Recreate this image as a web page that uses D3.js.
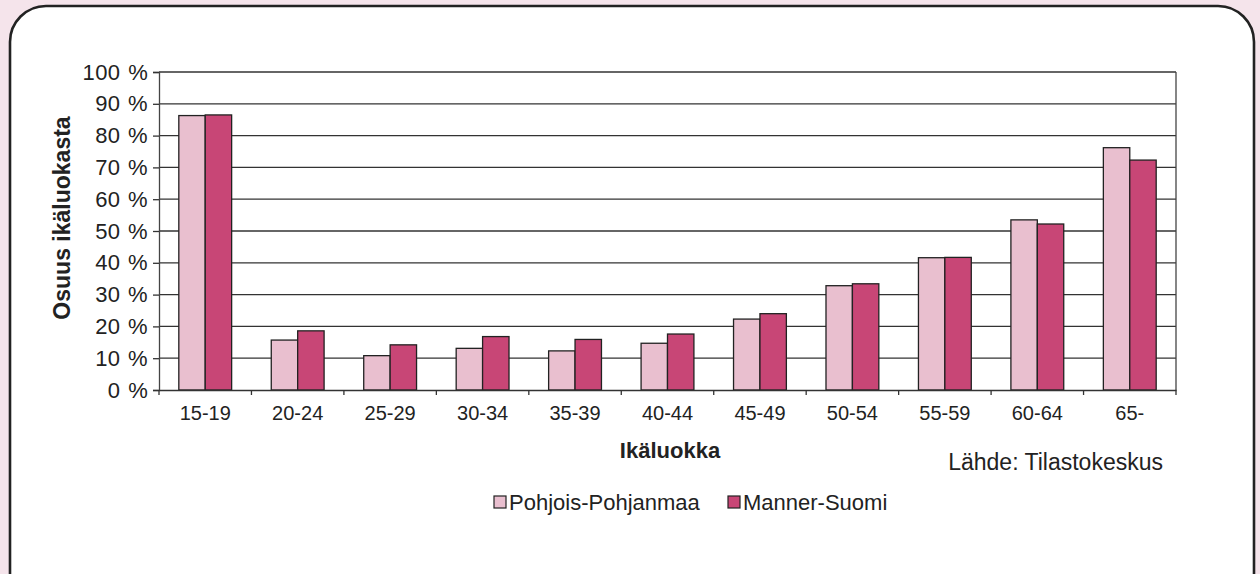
<!DOCTYPE html>
<html>
<head>
<meta charset="utf-8">
<script src="https://cdn.jsdelivr.net/npm/d3@7"></script>
<style>
  body { margin: 0; background: #f5e4eb; }
  svg { display: block; font-family: 'Liberation Sans', Arial, sans-serif; }
</style>
</head>
<body>
<div id="chart"></div>
<script>
// data
var ageGroups = ['15-19', '20-24', '25-29', '30-34', '35-39', '40-44', '45-49', '50-54', '55-59', '60-64', '65-']
var pohjoisPohjanmaa = [86.3, 15.7, 10.8, 13.1, 12.3, 14.7, 22.3, 32.8, 41.6, 53.5, 76.2]
var mannerSuomi = [86.5, 18.6, 14.2, 16.8, 15.9, 17.6, 24.0, 33.4, 41.7, 52.2, 72.3]
var seriesNames = ['Pohjois-Pohjanmaa', 'Manner-Suomi']
var yTicks = [0, 10, 20, 30, 40, 50, 60, 70, 80, 90, 100]

var colors = ['#e9bfcf', '#c84676']

var W = 1260, H = 574
var margin = { top: 72, left: 159, right: 84, bottom: 184 }
var width = W - margin.left - margin.right
var height = H - margin.top - margin.bottom

var root = d3.select('#chart').append('svg')
  .attr('width', W)
  .attr('height', H)

// rounded frame
root.append('rect')
  .attr('x', 10)
  .attr('y', 6)
  .attr('width', 1244)
  .attr('height', 620)
  .attr('rx', 36)
  .attr('fill', '#fff')
  .attr('stroke', '#222')
  .attr('stroke-width', 2.6)

var svg = root.append('g')
  .attr('transform', 'translate(' + margin.left + ',' + margin.top + ')')

var xPositionScale = d3.scaleBand().domain(ageGroups).range([0, width])
// Excel style gap width 150%
var xInner = d3.scaleBand().domain(seriesNames).range([0, xPositionScale.bandwidth()]).paddingOuter(0.75).paddingInner(0)
var yPositionScale = d3.scaleLinear().domain([0, 100]).range([height, 0])

// gridlines
svg.selectAll('.grid')
  .data(yTicks.slice(1))
  .enter()
  .append('line')
  .attr('x1', 0)
  .attr('x2', width)
  .attr('y1', d => yPositionScale(d))
  .attr('y2', d => yPositionScale(d))
  .attr('stroke', '#333')
  .attr('stroke-width', 1.3)

// right border
svg.append('line')
  .attr('x1', width).attr('x2', width)
  .attr('y1', 0).attr('y2', height)
  .attr('stroke', '#444')
  .attr('stroke-width', 1.3)

var rows = ageGroups.map((g, i) => ({ group: g, values: [pohjoisPohjanmaa[i], mannerSuomi[i]] }))

var groups = svg.selectAll('.bar-group')
  .data(rows)
  .enter()
  .append('g')
  .attr('transform', d => 'translate(' + xPositionScale(d.group) + ',0)')

groups.selectAll('rect')
  .data(d => d.values.map((v, j) => ({ key: seriesNames[j], value: v, j: j })))
  .enter()
  .append('rect')
  .attr('x', d => xInner(d.key))
  .attr('width', xInner.bandwidth())
  .attr('y', d => yPositionScale(d.value))
  .attr('height', d => height - yPositionScale(d.value))
  .attr('fill', d => colors[d.j])
  .attr('stroke', '#222')
  .attr('stroke-width', 1.3)

// axes
var yAxis = d3.axisLeft(yPositionScale)
  .tickValues(yTicks)
  .tickSize(6)
  .tickFormat(d => d + ' %')

svg.append('g')
  .attr('class', 'axis y-axis')
  .call(yAxis)
  .call(g => g.select('.domain').attr('stroke', '#444').attr('stroke-width', 1.3))
  .call(g => g.selectAll('.tick line').attr('stroke', '#333').attr('stroke-width', 1.3))
  .call(g => g.selectAll('.tick text')
    .attr('font-size', 22)
    .attr('fill', '#222')
    .attr('word-spacing', 1.5)
    .attr('letter-spacing', 0.3)
    .attr('font-family', "'Liberation Sans', Arial, sans-serif")
    .attr('x', -11))

var xAxis = d3.axisBottom(xPositionScale).tickSize(0).tickPadding(14)

svg.append('g')
  .attr('class', 'axis x-axis')
  .attr('transform', 'translate(0,' + height + ')')
  .call(xAxis)
  .call(g => g.select('.domain').attr('stroke', '#333').attr('stroke-width', 1.3))
  .call(g => g.selectAll('.tick text')
    .attr('font-size', 20)
    .attr('fill', '#222')
    .attr('dy', '0.8em')
    .attr('font-family', "'Liberation Sans', Arial, sans-serif"))

// category separator ticks
svg.selectAll('.xsep')
  .data(ageGroups.concat(['end']))
  .enter()
  .append('line')
  .attr('x1', (d, i) => i < ageGroups.length ? xPositionScale(d) : width)
  .attr('x2', (d, i) => i < ageGroups.length ? xPositionScale(d) : width)
  .attr('y1', height)
  .attr('y2', height + 5)
  .attr('stroke', '#333')
  .attr('stroke-width', 1.3)

// axis titles
svg.append('text')
  .text('Osuus ikäluokasta')
  .attr('transform', 'translate(' + (-89) + ',' + (146) + ') rotate(-90)')
  .attr('text-anchor', 'middle')
  .attr('font-size', 23)
  .attr('font-weight', 'bold')
  .attr('fill', '#222')

svg.append('text')
  .text('Ikäluokka')
  .attr('x', 670 - margin.left)
  .attr('y', height + 68)
  .attr('text-anchor', 'middle')
  .attr('font-size', 22)
  .attr('font-weight', 'bold')
  .attr('fill', '#222')

svg.append('text')
  .text('Lähde: Tilastokeskus')
  .attr('x', 1163 - margin.left)
  .attr('y', height + 80)
  .attr('text-anchor', 'end')
  .attr('font-size', 23)
  .attr('fill', '#222')

// legend
var legendX = [494, 728]
var legend = root.selectAll('.legend')
  .data(seriesNames)
  .enter()
  .append('g')
  .attr('transform', (d, i) => 'translate(' + legendX[i] + ',496)')

legend.append('rect')
  .attr('width', 12)
  .attr('height', 12)
  .attr('fill', (d, i) => colors[i])
  .attr('stroke', '#222')
  .attr('stroke-width', 1.2)

legend.append('text')
  .text(d => d)
  .attr('x', 15)
  .attr('y', 14)
  .attr('font-size', 22)
  .attr('fill', '#222')
</script>
</body>
</html>
